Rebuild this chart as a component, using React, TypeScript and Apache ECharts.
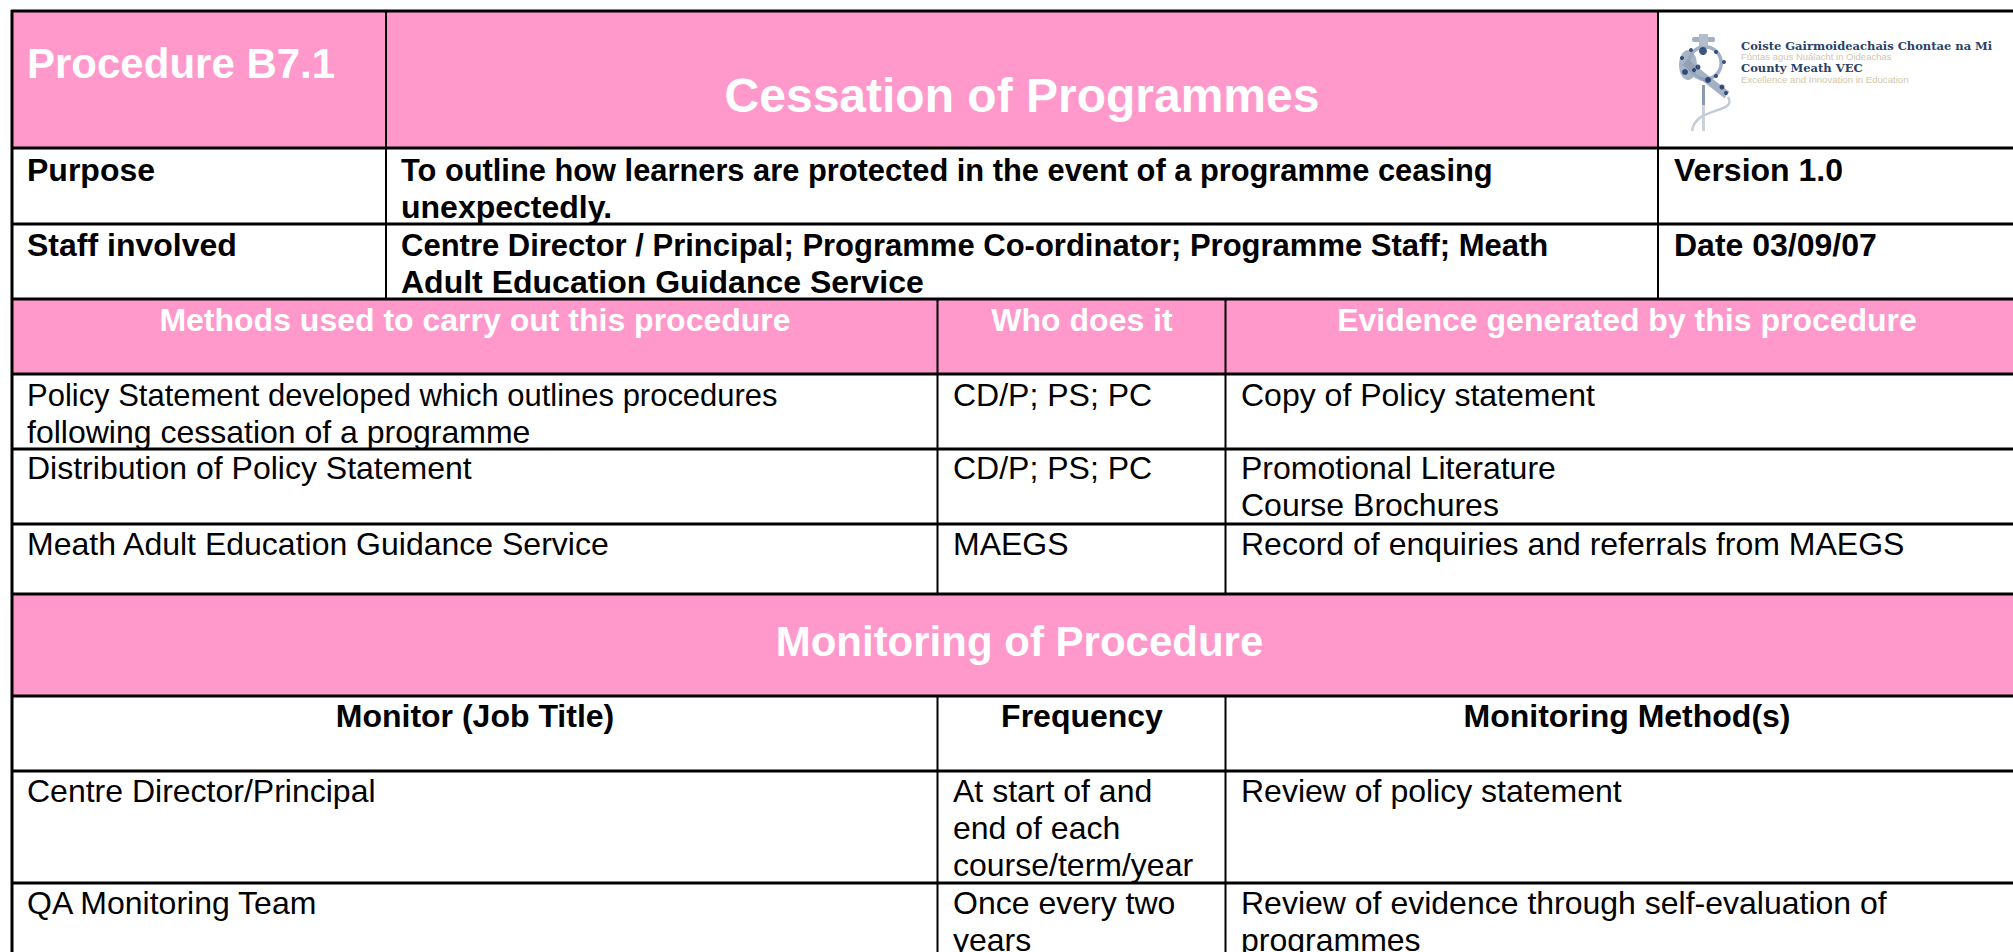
import React, { useEffect, useRef } from "react";
import * as echarts from "echarts";

const FONT = '"Liberation Sans", Arial, sans-serif';
const PINK = "#FF99CC";

const procedureId = "Procedure B7.1";
const procedureTitle = "Cessation of Programmes";
const purposeLabel = "Purpose";
const purposeLines = ["To outline how learners are protected in the event of a programme ceasing", "unexpectedly."];
const versionLabel = "Version 1.0";
const staffLabel = "Staff involved";
const staffLines = ["Centre Director / Principal; Programme Co-ordinator; Programme Staff; Meath", "Adult Education Guidance Service"];
const dateLabel = "Date 03/09/07";
const methodHeaders = ["Methods used to carry out this procedure", "Who does it", "Evidence generated by this procedure"];
const methodNames = [["Policy Statement developed which outlines procedures", "following cessation of a programme"], ["Distribution of Policy Statement"], ["Meath Adult Education Guidance Service"]];
const methodWho = ["CD/P; PS; PC", "CD/P; PS; PC", "MAEGS"];
const methodEvidence = [["Copy of Policy statement"], ["Promotional Literature", "Course Brochures"], ["Record of enquiries and referrals from MAEGS"]];
const monitoringTitle = "Monitoring of Procedure";
const monitorHeaders = ["Monitor (Job Title)", "Frequency", "Monitoring Method(s)"];
const monitorNames = [["Centre Director/Principal"], ["QA Monitoring Team"]];
const monitorFrequency = [["At start of and", "end of each", "course/term/year"], ["Once every two", "years"]];
const monitorMethods = [["Review of policy statement"], ["Review of evidence through self-evaluation of", "programmes"]];
const logoLines = ["Coiste Gairmoideachais Chontae na Mi", "Fúntas agus Nuálacht in Oideachas", "County Meath VEC", "Excellence and Innovation in Education"];

const W = 2013;
const H = 952;
const LH = 37;
const BODY = 32;

type Opt = { size?: number; bold?: boolean; fill?: string; align?: string; sx?: number };
function txt(text: string, x: number, base: number, o: Opt = {}) {
  const size = o.size ?? BODY;
  const shift = size === BODY ? 2 : 0;
  const el: any = {
    type: "text",
    silent: true,
    z: 10,
    style: {
      text,
      x: o.sx ? 0 : x,
      y: base + shift - size * 0.3465,
      font: `${o.bold ? "bold " : ""}${size}px ${FONT}`,
      fill: o.fill ?? "#000",
      align: o.align ?? "left",
      verticalAlign: "middle",
    },
  };
  if (o.sx) {
    el.x = x;
    el.scaleX = o.sx;
  }
  return el;
}
function lines(arr: string[], x: number, base: number, o: Opt = {}, firstSx?: number) {
  return arr.map((t, i) => txt(t, x, base + i * LH, i === 0 && firstSx ? { ...o, sx: firstSx } : o));
}
const rect = (x: number, y: number, w: number, h: number, fill: string) => ({ type: "rect", silent: true, z: 1, shape: { x, y, width: w, height: h }, style: { fill } });
const hl = (y: number, x1 = 11, x2 = W, t = 3) => rect(x1, y - t / 2, x2 - x1, t, "#000");
const vl = (x: number, y1: number, y2: number, t = 2) => rect(x - t / 2, y1, t, y2 - y1, "#000");

function logo() {
  const navy = "#1d3768";
  const base = { silent: true, z: 5 };
  const dots = [[1703, 51, 4], [1691, 50, 2], [1716, 52, 2], [1682, 58, 2], [1685, 72, 3], [1698, 67, 2.5], [1694, 70, 2], [1708, 80, 3], [1724, 62, 2], [1716, 76, 2], [1722, 87, 2.5], [1726, 93, 2]];
  const out: any[] = [
    { type: "rect", ...base, shape: { x: 1702, y: 85, width: 3, height: 20 }, style: { fill: "#8a9ab0" } },
    { type: "rect", ...base, shape: { x: 1702, y: 105, width: 3, height: 26 }, style: { fill: "#c9d1db" } },
    { type: "bezierCurve", ...base, shape: { x1: 1728, y1: 97, cpx1: 1738, cpy1: 114, cpx2: 1695, cpy2: 106, x2: 1692, y2: 131 }, style: { stroke: "#c3cbd6", fill: "none", lineWidth: 2.5 } },
    { type: "ring", ...base, shape: { cx: 1705, cy: 63, r: 18, r0: 14.5 }, style: { fill: "#7f95b5", opacity: 0.75 } },
    { type: "rect", ...base, shape: { x: 1692, y: 37, width: 23, height: 5, r: 2 }, style: { fill: "#a3afc2" } },
    { type: "rect", ...base, shape: { x: 1699, y: 34, width: 9, height: 12 }, style: { fill: "#b3bdcc" } },
    { type: "ellipse", ...base, shape: { cx: 1688, cy: 65, rx: 9, ry: 15 }, style: { fill: "#9aa8bd", opacity: 0.85 } },
    { type: "polyline", ...base, shape: { points: [[1685, 62], [1705, 78], [1727, 95]] }, style: { stroke: "#8d9db5", fill: "none", lineWidth: 8, opacity: 0.8 } },
  ];
  dots.forEach(([cx, cy, r]) => out.push({ type: "circle", silent: true, z: 6, shape: { cx, cy, r }, style: { fill: navy, opacity: 0.85 } }));
  const f = (t: string, baseY: number, size: number, fill: string, bold: boolean, fam: string) => ({
    type: "text",
    silent: true,
    z: 6,
    style: { text: t, x: 1741, y: baseY - size * 0.35, font: `${bold ? "bold " : ""}${size}px ${fam}`, fill, verticalAlign: "middle" },
  });
  out.push(f(logoLines[0], 50, 11.5, "#2b4268", true, '"DejaVu Serif", serif'));
  out.push(f(logoLines[1], 60, 9.5, "#d2c8ad", false, FONT));
  out.push(f(logoLines[2], 72, 11.5, "#2b4268", true, '"DejaVu Serif", serif'));
  out.push(f(logoLines[3], 83, 9.6, "#d2c8ad", false, FONT));
  return out;
}

function build() {
  const X0 = 11, X1 = 386, X2 = 937.5, X3 = 1225.5, X4 = 1658;
  const white = "#fff";
  const tx0 = 27, tx1 = 401, tx2 = 953, tx3 = 1241, tx4 = 1674;
  const els: any[] = [
    rect(0, 0, W, H, white),
    rect(X0, 11, X4 - X0, 137, PINK),
    rect(X0, 299, W - X0, 75, PINK),
    rect(X0, 594, W - X0, 102, PINK),
  ];
  [11, 148, 224, 299, 374, 449, 524, 594, 696, 771, 883].forEach((y) => els.push(hl(y)));
  els.push(vl(12, 10, H, 3));
  els.push(vl(X1, 11, 299));
  els.push(vl(X4, 11, 299));
  els.push(vl(X2, 299, 594));
  els.push(vl(X3, 299, 594));
  els.push(vl(X2, 696, H));
  els.push(vl(X3, 696, H));

  els.push(txt(procedureId, tx0, 78, { size: 42, bold: true, fill: white }));
  els.push(txt(procedureTitle, 1022, 112, { size: 48, bold: true, fill: white, align: "center" }));
  els.push(txt(purposeLabel, tx0, 179, { bold: true }));
  els.push(...lines(purposeLines, tx1, 179, { bold: true }, 0.963));
  els.push(txt(versionLabel, tx4, 179, { bold: true }));
  els.push(txt(staffLabel, tx0, 254, { bold: true }));
  els.push(...lines(staffLines, tx1, 254, { bold: true }, 0.969));
  els.push(txt(dateLabel, tx4, 254, { bold: true }));

  const hc = [475, 1082, 1627];
  methodHeaders.forEach((t, i) => els.push(txt(t, hc[i], 329, { bold: true, fill: white, align: "center" })));
  const rowBase = [404, 477, 553];
  rowBase.forEach((b, i) => {
    els.push(...lines(methodNames[i], tx0, b, {}, i === 0 ? 0.968 : undefined));
    els.push(txt(methodWho[i], tx2, b));
    els.push(...lines(methodEvidence[i], tx3, b));
  });
  els.push(txt(monitoringTitle, 1019.5, 656, { size: 42, bold: true, fill: white, align: "center" }));
  monitorHeaders.forEach((t, i) => els.push(txt(t, hc[i], 725, { bold: true, align: "center" })));
  const monBase = [800, 912];
  monBase.forEach((b, i) => {
    els.push(...lines(monitorNames[i], tx0, b));
    els.push(...lines(monitorFrequency[i], tx2, b));
    els.push(...lines(monitorMethods[i], tx3, b));
  });
  els.push(...logo());
  return els;
}

export default function App() {
  const ref = useRef<HTMLDivElement>(null);
  useEffect(() => {
    document.body.style.margin = "0";
    document.body.style.background = "#fff";
    document.body.style.overflow = "hidden";
    const chart = echarts.init(ref.current!, undefined, { renderer: "svg" });
    chart.setOption({ animation: false, backgroundColor: "#fff", graphic: { elements: build() } });
    return () => chart.dispose();
  }, []);
  return <div ref={ref} style={{ width: W, height: H }} />;
}
